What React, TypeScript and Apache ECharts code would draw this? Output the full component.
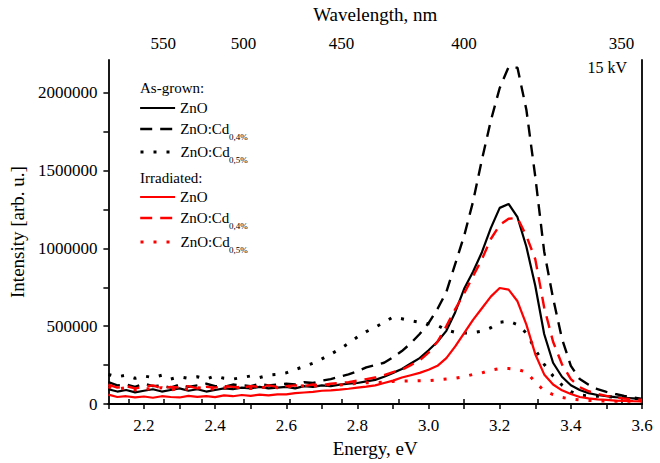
import React, { useEffect, useRef } from "react";
import * as echarts from "echarts";

// Photon energy grid (eV)
const energy = [
  2.100, 2.125, 2.150, 2.175, 2.200, 2.225, 2.250, 2.275, 2.300, 2.325,
  2.350, 2.375, 2.400, 2.425, 2.450, 2.475, 2.500, 2.525, 2.550, 2.575,
  2.600, 2.625, 2.650, 2.675, 2.700, 2.725, 2.750, 2.775, 2.800, 2.825,
  2.850, 2.875, 2.900, 2.925, 2.950, 2.975, 3.000, 3.025, 3.050, 3.075,
  3.100, 3.125, 3.150, 3.175, 3.200, 3.225, 3.250, 3.275, 3.300, 3.325,
  3.350, 3.375, 3.400, 3.425, 3.450, 3.475, 3.500, 3.525, 3.550, 3.575,
  3.600,
];

// As-grown samples
const asGrownZnO = [
  95000, 80000, 90000, 75000, 85000, 95000, 80000, 90000, 100000, 85000,
  95000, 80000, 90000, 100000, 95000, 105000, 100000, 110000, 100000, 105000,
  110000, 100000, 115000, 110000, 120000, 115000, 125000, 130000, 135000, 145000,
  155000, 175000, 200000, 225000, 260000, 295000, 345000, 400000, 470000, 590000,
  740000, 850000, 975000, 1130000, 1260000, 1285000, 1200000, 1010000, 760000, 450000,
  265000, 175000, 120000, 90000, 70000, 58000, 50000, 44000, 40000, 36000,
  31000,
];
const asGrownCd04 = [
  140000, 120000, 125000, 110000, 130000, 115000, 120000, 105000, 125000, 110000,
  120000, 130000, 115000, 110000, 125000, 120000, 115000, 130000, 120000, 125000,
  130000, 125000, 140000, 135000, 150000, 160000, 175000, 190000, 210000, 235000,
  250000, 265000, 300000, 340000, 390000, 450000, 520000, 610000, 720000, 900000,
  1080000, 1300000, 1570000, 1820000, 2030000, 2165000, 2160000, 1890000, 1460000, 980000,
  680000, 420000, 245000, 160000, 124000, 95000, 78000, 64000, 52000, 42000,
  33000,
];
const asGrownCd05 = [
  190000, 175000, 185000, 165000, 180000, 170000, 185000, 160000, 175000, 165000,
  175000, 160000, 180000, 165000, 160000, 170000, 180000, 170000, 185000, 190000,
  200000, 222000, 240000, 262000, 290000, 320000, 352000, 390000, 430000, 465000,
  493000, 525000, 558000, 548000, 535000, 525000, 515000, 505000, 475000, 460000,
  456000, 458000, 468000, 490000, 525000, 532000, 510000, 455000, 350000, 255000,
  180000, 122000, 80000, 58000, 52000, 50000, 47000, 44000, 40000, 36000,
  33000,
];

// Irradiated samples
const irrZnO = [
  60000, 45000, 50000, 42000, 48000, 40000, 50000, 45000, 42000, 52000,
  46000, 50000, 44000, 55000, 50000, 58000, 52000, 60000, 55000, 62000,
  62000, 70000, 74000, 78000, 85000, 88000, 92000, 98000, 105000, 112000,
  120000, 135000, 150000, 170000, 185000, 200000, 220000, 245000, 295000, 370000,
  455000, 540000, 615000, 690000, 745000, 735000, 660000, 510000, 320000, 190000,
  125000, 88000, 64000, 45000, 36000, 30000, 26000, 22000, 20000, 18000,
  17000,
];
const irrCd04 = [
  125000, 105000, 115000, 100000, 110000, 120000, 100000, 110000, 105000, 115000,
  100000, 110000, 105000, 115000, 110000, 105000, 115000, 110000, 120000, 110000,
  115000, 120000, 115000, 125000, 120000, 130000, 135000, 140000, 150000, 160000,
  170000, 185000, 205000, 220000, 250000, 280000, 330000, 400000, 500000, 610000,
  710000, 820000, 930000, 1060000, 1150000, 1190000, 1195000, 1080000, 930000, 620000,
  400000, 255000, 160000, 108000, 82000, 65000, 52000, 42000, 35000, 30000,
  27000,
];
const irrCd05 = [
  110000, 95000, 105000, 90000, 100000, 95000, 105000, 90000, 100000, 95000,
  105000, 100000, 95000, 105000, 100000, 110000, 100000, 105000, 110000, 105000,
  115000, 110000, 118000, 115000, 120000, 125000, 122000, 128000, 132000, 136000,
  138000, 140000, 145000, 147000, 148000, 150000, 150000, 155000, 160000, 165000,
  175000, 190000, 200000, 218000, 228000, 228000, 222000, 205000, 140000, 85000,
  60000, 42000, 32000, 27000, 23000, 20000, 19000, 18000, 18000, 17000,
  17000,
];

// Axis ticks and labels
const energyTicks = [2.1, 2.2, 2.3, 2.4, 2.5, 2.6, 2.7, 2.8, 2.9, 3.0, 3.1, 3.2, 3.3, 3.4, 3.5, 3.6];
const energyLabels = [2.2, 2.4, 2.6, 2.8, 3.0, 3.2, 3.4, 3.6];
const intensityTicks = [0, 250000, 500000, 750000, 1000000, 1250000, 1500000, 1750000, 2000000];
const intensityLabels = [0, 500000, 1000000, 1500000, 2000000];
const wavelengthTicks = [575, 550, 525, 500, 475, 450, 425, 400, 375, 350];
const wavelengthLabels = [550, 500, 450, 400, 350];
const HC = 1239.84; // eV·nm

const FONT = '"Liberation Serif", "Times New Roman", serif';

export default function App() {
  const ref = useRef<HTMLDivElement>(null);

  useEffect(() => {
    if (!ref.current) return;
    const chart = echarts.init(ref.current, null, { renderer: "svg" });

    const mk = (arr: number[]) => energy.map((e, i) => [e, arr[i]]);

    const DASH = [12, 8];
    const DOT = [3, 10];
    // legend rows: label text, subscript, row centre (px)
    const seriesDefs = [
      { name: "ag-ZnO", label: "ZnO", sub: "", row: 108, data: asGrownZnO, color: "#000000", width: 2.2, type: "solid" as any },
      { name: "ag-Cd04", label: "ZnO:Cd", sub: "0,4%", row: 129, data: asGrownCd04, color: "#000000", width: 2.4, type: DASH },
      { name: "ag-Cd05", label: "ZnO:Cd", sub: "0,5%", row: 152, data: asGrownCd05, color: "#000000", width: 3, type: DOT },
      { name: "ir-ZnO", label: "ZnO", sub: "", row: 197, data: irrZnO, color: "#ff0000", width: 2.2, type: "solid" as any },
      { name: "ir-Cd04", label: "ZnO:Cd", sub: "0,4%", row: 218, data: irrCd04, color: "#ff0000", width: 2.4, type: DASH },
      { name: "ir-Cd05", label: "ZnO:Cd", sub: "0,5%", row: 242, data: irrCd05, color: "#ff0000", width: 3, type: DOT },
    ];

    const legends = seriesDefs.map((s) => ({
      data: [
        {
          name: s.name,
          itemStyle: { opacity: 0 },
          lineStyle: { color: s.color, width: s.width, type: s.type, opacity: 1 },
        },
      ],
      orient: "vertical",
      left: 139,
      top: s.row - 9,
      padding: 0,
      itemWidth: 35,
      itemHeight: 10,
      formatter: () => s.label,
      textStyle: { fontFamily: FONT, fontSize: 15, color: "#000", lineHeight: 18 },
      selectedMode: false,
    }));

    const subs = seriesDefs
      .filter((s) => s.sub)
      .map((s) => ({
        type: "text",
        left: 229,
        top: s.row + 3,
        style: { text: s.sub, font: `9px ${FONT}`, fill: "#000" },
      }));

    const axisLine = { show: true, lineStyle: { color: "#000", width: 1.8 } };
    const tickStyle = { color: "#000", width: 1.5 };

    chart.setOption({
      animation: false,
      backgroundColor: "#ffffff",
      textStyle: { fontFamily: FONT },
      grid: { left: 106, right: 18, top: 51, bottom: 49, containLabel: false },
      legend: legends,
      xAxis: [
        {
          type: "value",
          position: "bottom",
          min: 2.1,
          max: 3.6,
          name: "Energy, eV",
          nameLocation: "middle",
          nameGap: 35,
          nameTextStyle: { fontFamily: FONT, fontSize: 19, color: "#000" },
          axisLine,
          axisTick: { show: true, inside: false, length: 5, lineStyle: tickStyle, customValues: energyTicks },
          axisLabel: {
            show: true,
            margin: 13,
            fontFamily: FONT,
            fontSize: 17,
            color: "#000",
            customValues: energyLabels,
            formatter: (v: number) => v.toFixed(1),
          },
          splitLine: { show: false },
        },
        {
          type: "value",
          position: "top",
          min: 2.1,
          max: 3.6,
          name: "Wavelength, nm",
          nameLocation: "middle",
          nameGap: 36,
          nameTextStyle: { fontFamily: FONT, fontSize: 19, color: "#000" },
          axisLine,
          axisTick: {
            show: true,
            inside: false,
            length: 5,
            lineStyle: tickStyle,
            customValues: wavelengthTicks.map((w) => HC / w),
          },
          axisLabel: {
            show: true,
            margin: 8,
            fontFamily: FONT,
            fontSize: 17,
            color: "#000",
            customValues: wavelengthLabels.map((w) => HC / w),
            formatter: (v: number) => String(Math.round(HC / v)),
          },
          splitLine: { show: false },
        },
      ],
      yAxis: [
        {
          type: "value",
          position: "left",
          min: 0,
          max: 2210000,
          name: "Intensity [arb. u.]",
          nameLocation: "middle",
          nameGap: 71,
          nameRotate: 90,
          nameTextStyle: { fontFamily: FONT, fontSize: 19, color: "#000" },
          axisLine,
          axisTick: { show: true, inside: false, length: 5, lineStyle: tickStyle, customValues: intensityTicks },
          axisLabel: {
            show: true,
            margin: 11,
            fontFamily: FONT,
            fontSize: 17,
            color: "#000",
            customValues: intensityLabels,
            formatter: (v: number) => String(Math.round(v)),
          },
          splitLine: { show: false },
        },
        {
          type: "value",
          position: "right",
          min: 0,
          max: 2210000,
          axisLine,
          axisTick: { show: false },
          axisLabel: { show: false },
          splitLine: { show: false },
        },
      ],
      graphic: [
        { type: "text", left: 140, top: 80, style: { text: "As-grown:", font: `15px ${FONT}`, fill: "#000" } },
        { type: "text", left: 140, top: 170, style: { text: "Irradiated:", font: `15px ${FONT}`, fill: "#000" } },
        { type: "text", right: 33, top: 59, style: { text: "15 kV", font: `16px ${FONT}`, fill: "#000" } },
        ...subs,
      ],
      series: seriesDefs.map((s) => ({
        name: s.name,
        type: "line",
        xAxisIndex: 0,
        yAxisIndex: 0,
        data: mk(s.data),
        symbol: "none",
        showSymbol: false,
        smooth: false,
        color: s.color,
        lineStyle: { color: s.color, width: s.width, type: s.type },
        itemStyle: { color: s.color },
        z: s.color === "#ff0000" ? 3 : 2,
      })),
    });

    return () => chart.dispose();
  }, []);

  return (
    <div
      ref={ref}
      style={{ position: "absolute", left: 0, top: 0, width: 660, height: 463 }}
    />
  );
}
